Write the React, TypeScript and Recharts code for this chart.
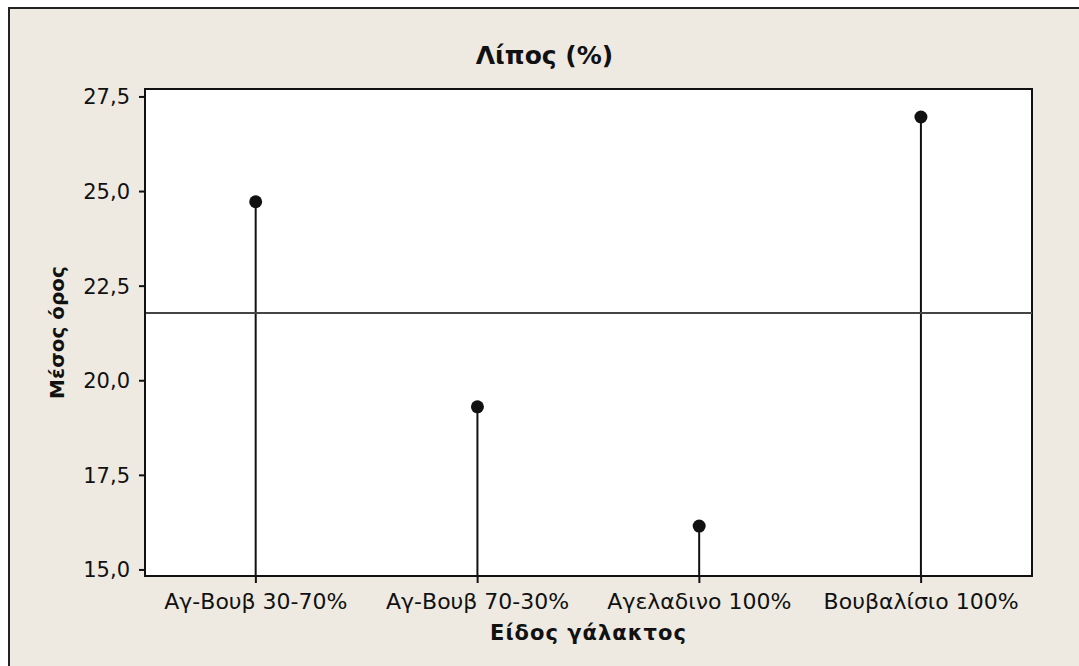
import {
  Bar,
  ComposedChart,
  ReferenceArea,
  ReferenceLine,
  XAxis,
  YAxis,
} from "recharts";

const categories = ["Αγ-Βουβ 30-70%", "Αγ-Βουβ 70-30%", "Αγελαδινο 100%", "Βουβαλίσιο 100%"];
const means = [24.73, 19.31, 16.16, 26.97];
const overallMean = 21.79;
const yTicks = [15, 17.5, 20, 22.5, 25, 27.5];
const yDomain = [14.84, 27.71];

const data = categories.map((name, i) => ({ name, value: means[i] }));

const font = "'DejaVu Sans', Verdana, sans-serif";
const ink = "#111";

const Stem = (props: any) => {
  const { x, y, width, height } = props;
  const cx = x + width / 2;
  return (
    <g>
      <line x1={cx} y1={y} x2={cx} y2={y + height} stroke={ink} strokeWidth={2} />
      <circle cx={cx} cy={y} r={6.5} fill={ink} />
    </g>
  );
};

const fmt = (v: number) => v.toFixed(1).replace(".", ",");

const App = () => {
  return (
    <div
      style={{
        position: "fixed",
        left: 8,
        top: 7,
        right: 0,
        bottom: 0,
        background: "#EEEAE1",
        borderLeft: "2px solid #222",
        borderTop: "2px solid #222",
        fontFamily: font,
      }}
    >
      <div
        style={{
          position: "absolute",
          left: 0,
          width: 1069,
          top: 32,
          textAlign: "center",
          fontWeight: "bold",
          fontSize: 25,
          color: ink,
        }}
      >
        Λίπος (%)
      </div>
      <ComposedChart
        width={1069}
        height={657}
        data={data}
        margin={{ top: 80, right: 47, bottom: 30, left: 55 }}
        style={{ position: "absolute", left: 0, top: 0 }}
      >
        <ReferenceArea
          y1={yDomain[0]}
          y2={yDomain[1]}
          fill="#fff"
          fillOpacity={1}
          stroke={ink}
          strokeWidth={2}
          ifOverflow="visible"
        />
        <XAxis
          dataKey="name"
          height={60}
          axisLine={{ stroke: ink, strokeWidth: 2 }}
          tickLine={{ stroke: ink, strokeWidth: 2 }}
          tickSize={7}
          tickMargin={10}
          tick={{ fill: ink, fontSize: 22, fontFamily: font }}
          interval={0}
          label={{
            content: ({ viewBox }: any) => (
              <text
                x={viewBox.x + viewBox.width / 2}
                y={viewBox.y + 57}
                textAnchor="middle"
                dominantBaseline="central"
                fontFamily={font}
                fontWeight="bold"
                fontSize={21}
                letterSpacing={1}
                fill={ink}
              >
                Είδος γάλακτος
              </text>
            ),
          }}
        />
        <YAxis
          width={80}
          domain={yDomain}
          ticks={yTicks}
          tickFormatter={fmt}
          axisLine={{ stroke: ink, strokeWidth: 2 }}
          tickLine={{ stroke: ink, strokeWidth: 2 }}
          tickSize={6}
          tickMargin={9}
          tick={{ fill: ink, fontSize: 21, fontFamily: font }}
          allowDataOverflow
          label={{
            content: ({ viewBox }: any) => {
              const cx = viewBox.x - 8;
              const cy = viewBox.y + viewBox.height / 2;
              return (
                <text
                  x={cx}
                  y={cy}
                  transform={`rotate(-90 ${cx} ${cy})`}
                  textAnchor="middle"
                  dominantBaseline="central"
                  fontFamily={font}
                  fontWeight="bold"
                  fontSize={20}
                  fill={ink}
                >
                  Μέσος όρος
                </text>
              );
            },
          }}
        />
        <ReferenceLine y={overallMean} stroke="#444" strokeWidth={2} />
        <Bar dataKey="value" shape={<Stem />} isAnimationActive={false} />
      </ComposedChart>
    </div>
  );
};

export default App;
